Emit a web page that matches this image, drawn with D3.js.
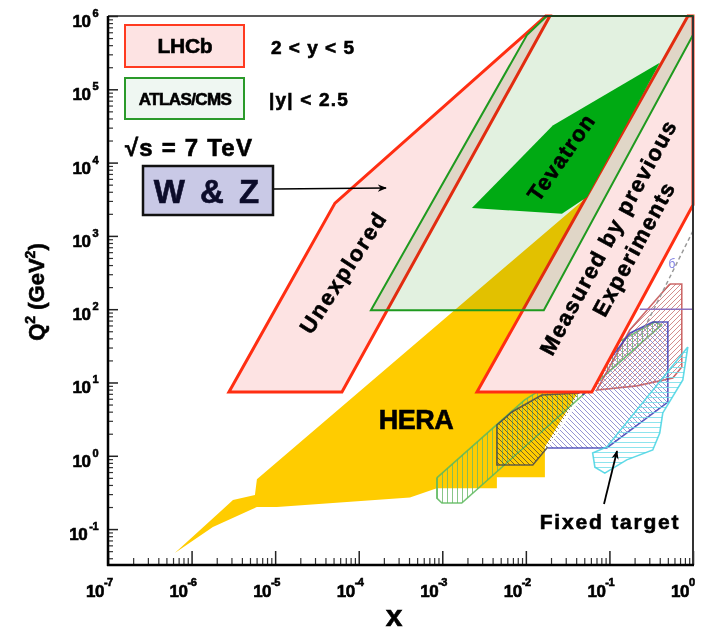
<!DOCTYPE html>
<html>
<head>
<meta charset="utf-8">
<script src="https://cdn.jsdelivr.net/npm/d3@7"></script>
<style>
  body { margin: 0; background: #fff; }
  svg { display: block; font-family: "Liberation Sans", Arial, sans-serif; font-weight: bold; }
  svg text { stroke: currentColor; stroke-width: 0.6px; paint-order: stroke; }
</style>
</head>
<body>
<svg id="chart" width="703" height="634"></svg>
<script>
// ---- data: region outlines as [x, Q2] pairs ----
const xTickExp = [-7, -6, -5, -4, -3, -2, -1, 0];
const yTickExp = [-1, 0, 1, 2, 3, 4, 5, 6];

const heraRegion = [
	[6.3e-7, 0.047], [3.13e-6, 0.249], [5.73e-6, 0.292], [6.05e-6, 0.48],
	[0.054, 3400], [0.73, 4.3e4], [0.73, 1550], [0.0169, 1.32], [0.0169, 0.51],
	[4.5e-3, 0.51], [4.5e-3, 0.36], [8.6e-4, 0.36], [4.1e-4, 0.27],
	[1.05e-5, 0.2], [6.05e-6, 0.2], [1.8e-6, 0.107],
];
const lhcbLow = [[2.8e-6, 7.4], [5.2e-5, 2800], [1.03e-2, 5.9e5], [1.73e-2, 1e6], [1.94e-2, 1e6], [6.3e-5, 7.4]];
const lhcbHigh = [[2.6e-3, 7.4], [0.87, 1e6], [1, 1e6], [1, 2640], [0.0615, 7.4]];
const atlasCms = [[1.4e-4, 97], [1.03e-2, 5.5e5], [1.78e-2, 1e6], [1, 1e6], [1, 5.5e5], [1.64e-2, 97]];
const tevatron = [[2.26e-3, 2400], [0.021, 3.2e4], [0.4, 2.3e5], [0.054, 3400], [0.027, 2000]];

// fixed target outlines; the last (closing) edge of each is left unstroked
const fixedDark = [[0.0183, 1.32], [0.0121, 0.75], [4.5e-3, 0.75], [4.5e-3, 2.63], [6.8e-3, 3.96], [0.0155, 6.75], [0.044, 7.2]];
const fixedBlue = [[0.048, 6.75], [0.175, 47], [0.33, 67], [0.5, 67], [0.5, 5.4], [0.093, 1.28], [0.0183, 1.28]];
const fixedRed = [[0.527, 221], [0.734, 221], [0.734, 16.3], [0.573, 11.5], [0.213, 9.0], [0.0706, 7.9], [0.175, 52], [0.527, 221]];
const fixedGreen = [[8.6e-4, 0.5], [9.7e-3, 5.8], [0.077, 26], [0.35, 67], [0.42, 61], [1.71e-3, 0.227], [9.9e-4, 0.227], [8.6e-4, 0.265], [8.6e-4, 0.5]];
const fixedCyan = [[0.867, 30.5], [0.755, 10.8], [0.435, 3.84], [0.4, 2.05], [0.33, 1.2], [0.161, 0.88], [0.088, 0.58], [0.067, 0.7], [0.063, 1.09], [0.093, 1.32], [0.867, 30.5]];
const fixedDashed = [[1, 1170], [0.238, 44.5]];
const fixedQ2Line = [[0.231, 100], [1, 100]];

// ---- scales ----
const svg = d3.select("#chart");
const x = d3.scaleLog().domain([1e-7, 1]).range([108, 693]);
const y = d3.scaleLog().domain([Math.pow(10, -1.49), 1e6]).range([565, 16]);

const line = d3.line().x((d) => x(d[0])).y((d) => y(d[1]));
const shape = (pts) => line(pts) + "Z";

svg.append("rect").attr("width", 703).attr("height", 634).attr("fill", "#fff");

// hatch patterns
const defs = svg.append("defs");
function hatch(id, color, kind) {
	const p = defs.append("pattern").attr("id", id).attr("patternUnits", "userSpaceOnUse")
		.attr("width", 5).attr("height", 5);
	let d;
	if (kind === "back") d = "M-1,-1 L6,6 M-1,4 L1,6 M4,-1 L6,1";
	else if (kind === "fwd") d = "M-1,6 L6,-1 M-1,1 L1,-1 M4,6 L6,4";
	else if (kind === "vert") d = "M2.5,0 L2.5,5";
	else d = "M0,2.5 L5,2.5";
	p.append("path").attr("d", d).attr("stroke", color).attr("stroke-width", 0.8).attr("fill", "none");
}
hatch("hDark", "#5a4a30", "back");
hatch("hBlue", "#7a7ac8", "back");
hatch("hRed", "#c87070", "fwd");
hatch("hGreen", "#6ab86a", "vert");
hatch("hCyan", "#70dde8", "horz");

defs.append("marker").attr("id", "arr").attr("viewBox", "0 0 10 10").attr("refX", 9).attr("refY", 5)
	.attr("markerWidth", 9).attr("markerHeight", 9).attr("orient", "auto-start-reverse")
	.attr("markerUnits", "userSpaceOnUse")
	.append("path").attr("d", "M0,1 L10,5 L0,9 L3,5 Z").attr("fill", "#000");

// ---- regions ----
svg.append("path").attr("d", shape(heraRegion)).attr("fill", "#ffcc00");

const fixed = [
	{ pts: fixedGreen, pat: "hGreen", stroke: "#5cb85c" },
	{ pts: fixedDark, pat: "hDark", stroke: "#4a4a4a" },
	{ pts: fixedRed, pat: "hRed", stroke: "#c45050" },
	{ pts: fixedBlue, pat: "hBlue", stroke: "#3c3cb4" },
	{ pts: fixedCyan, pat: "hCyan", stroke: "#45d3e3" },
];
const fg = svg.append("g").selectAll("g").data(fixed).join("g");
fg.append("path").attr("d", (d) => shape(d.pts)).attr("fill", (d) => `url(#${d.pat})`);
fg.append("path").attr("d", (d) => line(d.pts))
	.attr("fill", "none")
	.attr("stroke", (d) => d.stroke)
	.attr("stroke-width", 1.6)
	.attr("stroke-opacity", 0.85);

svg.append("path").attr("d", line(fixedDashed)).attr("stroke", "#999").attr("stroke-width", 1.5)
	.attr("stroke-dasharray", "4,3").attr("fill", "none");
svg.append("path").attr("d", line(fixedQ2Line)).attr("stroke", "#8a70c0").attr("stroke-width", 1.5).attr("fill", "none");
svg.append("text").attr("x", 672).attr("y", 268).attr("font-size", 12).attr("font-weight", "normal")
	.style("stroke-width", 0).style("color", "#7f7fe0")
	.attr("fill", "#7f7fe0").attr("text-anchor", "middle").text("б");

svg.append("g").selectAll("path").data([lhcbLow, lhcbHigh]).join("path")
	.attr("d", shape)
	.attr("fill", "#fde3e3")
	.attr("stroke", "#ff2e12")
	.attr("stroke-width", 3)
	.attr("stroke-linejoin", "miter");

svg.append("path").attr("d", shape(atlasCms))
	.attr("fill", "#e2f1e0")
	.style("mix-blend-mode", "multiply");
svg.append("path").attr("d", shape(atlasCms))
	.attr("fill", "none").attr("stroke", "#1f9a1f").attr("stroke-width", 2);

svg.append("path").attr("d", shape(tevatron)).attr("fill", "#00aa13");

// ---- axes ----
const xMinorVals = [];
for (let e = -7; e < 0; e++) for (let m = 2; m < 10; m++) xMinorVals.push(m * Math.pow(10, e));
const yMinorVals = [];
for (let e = -2; e < 6; e++) for (let m = 2; m < 10; m++) {
	const v = m * Math.pow(10, e);
	if (v > y.domain()[0]) yMinorVals.push(v);
}

svg.append("g").attr("transform", "translate(0,565)")
	.call(d3.axisBottom(x).tickValues(xMinorVals).tickSize(-7).tickFormat(""))
	.call((g) => g.select(".domain").remove())
	.selectAll("line").attr("stroke", "#333").attr("stroke-width", 1.2);
svg.append("g").attr("transform", "translate(0,565)")
	.call(d3.axisBottom(x).tickValues(xTickExp.map((e) => Math.pow(10, e))).tickSize(-14).tickFormat(""))
	.call((g) => g.select(".domain").remove())
	.selectAll("line").attr("stroke", "#222").attr("stroke-width", 1.5);

svg.append("g").attr("transform", "translate(108,0)")
	.call(d3.axisLeft(y).tickValues(yMinorVals).tickSize(-5).tickFormat(""))
	.call((g) => g.select(".domain").remove())
	.selectAll("line").attr("stroke", "#333").attr("stroke-width", 1.2);
svg.append("g").attr("transform", "translate(108,0)")
	.call(d3.axisLeft(y).tickValues(yTickExp.map((e) => Math.pow(10, e))).tickSize(-10).tickFormat(""))
	.call((g) => g.select(".domain").remove())
	.selectAll("line").attr("stroke", "#222").attr("stroke-width", 1.5);

// frame
svg.append("line").attr("x1", 108).attr("x2", 693).attr("y1", 16).attr("y2", 16).attr("stroke", "#222").attr("stroke-width", 1.5);
svg.append("line").attr("x1", 693).attr("x2", 693).attr("y1", 16).attr("y2", 565).attr("stroke", "#333").attr("stroke-width", 2);
svg.append("line").attr("x1", 108).attr("x2", 108).attr("y1", 16).attr("y2", 566).attr("stroke", "#000").attr("stroke-width", 2.5);
svg.append("line").attr("x1", 107).attr("x2", 694).attr("y1", 565).attr("y2", 565).attr("stroke", "#000").attr("stroke-width", 2.5);

// tick labels
const xl = svg.append("g").selectAll("text").data(xTickExp).join("text")
	.attr("x", (d) => x(Math.pow(10, d)) - 22).attr("y", 597)
	.attr("font-size", 17).attr("letter-spacing", -0.5);
xl.append("tspan").text("10");
xl.append("tspan").attr("dy", -11).attr("font-size", 11).text((d) => d);

const yl = svg.append("g").selectAll("text").data(yTickExp).join("text")
	.attr("x", 98).attr("y", (d) => y(Math.pow(10, d)) + 11)
	.attr("text-anchor", "end").attr("font-size", 17).attr("letter-spacing", -0.5);
yl.append("tspan").text("10");
yl.append("tspan").attr("dx", 2).attr("dy", -10).attr("font-size", 11).text((d) => d);

// axis titles
svg.append("text").attr("x", 394).attr("y", 626).attr("text-anchor", "middle").attr("font-size", 30).text("x");
const yt = svg.append("text").attr("transform", "translate(44,292) rotate(-90)")
	.attr("text-anchor", "middle").attr("font-size", 22);
yt.append("tspan").text("Q");
yt.append("tspan").attr("dy", -9).attr("font-size", 14).text("2");
yt.append("tspan").attr("dy", 9).text(" (GeV");
yt.append("tspan").attr("dy", -9).attr("font-size", 14).text("2");
yt.append("tspan").attr("dy", 9).text(")");

// ---- legend ----
svg.append("rect").attr("x", 125).attr("y", 25).attr("width", 119).attr("height", 42)
	.attr("fill", "#fde3e3").attr("stroke", "#ff3a20").attr("stroke-width", 2);
svg.append("text").attr("x", 185).attr("y", 53).attr("text-anchor", "middle").attr("font-size", 21)
	.attr("letter-spacing", -0.3).text("LHCb");
svg.append("text").attr("x", 271).attr("y", 54).attr("font-size", 19).attr("letter-spacing", 1).text("2 < y < 5");

svg.append("rect").attr("x", 125).attr("y", 78).attr("width", 119).attr("height", 41)
	.attr("fill", "#eff7f2").attr("stroke", "#2a9a2a").attr("stroke-width", 2);
svg.append("text").attr("x", 185).attr("y", 105).attr("text-anchor", "middle").attr("font-size", 17)
	.attr("letter-spacing", -0.6).text("ATLAS/CMS");
svg.append("text").attr("x", 269).attr("y", 106).attr("font-size", 19).attr("letter-spacing", 1.2).text("|y| < 2.5");

svg.append("text").attr("x", 125).attr("y", 156).attr("font-size", 24).attr("letter-spacing", 1.2).text("√s = 7 TeV");

svg.append("rect").attr("x", 143).attr("y", 166).attr("width", 130).attr("height", 49)
	.attr("fill", "#c9c9e6").attr("stroke", "#111").attr("stroke-width", 2.5);
svg.append("text").attr("x", 208).attr("y", 203).attr("text-anchor", "middle").attr("font-size", 33)
	.style("color", "#0c0c2a").attr("fill", "#0c0c2a").attr("letter-spacing", 3).text("W & Z");
svg.append("line").attr("x1", 274).attr("y1", 189).attr("x2", 386).attr("y2", 188)
	.attr("stroke", "#000").attr("stroke-width", 1.5).attr("marker-end", "url(#arr)");

// ---- region labels ----
svg.append("text").attr("transform", "translate(343,272) rotate(-57)").attr("text-anchor", "middle")
	.attr("dy", 8).attr("font-size", 22).attr("letter-spacing", 2).text("Unexplored");
svg.append("text").attr("transform", "translate(561,157) rotate(-55)").attr("text-anchor", "middle")
	.attr("dy", 8).attr("font-size", 22).attr("letter-spacing", 1.2).text("Tevatron");
const meas = svg.append("g").attr("transform", "translate(608,237) rotate(-61.6)")
	.attr("text-anchor", "middle").attr("font-size", 22).attr("letter-spacing", 1.6);
meas.append("text").attr("y", 8).text("Measured by previous");
meas.append("text").attr("x", 2).attr("y", 36).text("Experiments");

svg.append("text").attr("x", 416).attr("y", 429).attr("text-anchor", "middle").attr("font-size", 27)
	.attr("letter-spacing", -0.5).text("HERA");
svg.append("text").attr("x", 610).attr("y", 529).attr("text-anchor", "middle").attr("font-size", 21)
	.attr("letter-spacing", 1.8).text("Fixed target");
svg.append("line").attr("x1", 604).attr("y1", 504).attr("x2", 617).attr("y2", 451)
	.attr("stroke", "#000").attr("stroke-width", 1.8).attr("marker-end", "url(#arr)");
</script>
</body>
</html>
